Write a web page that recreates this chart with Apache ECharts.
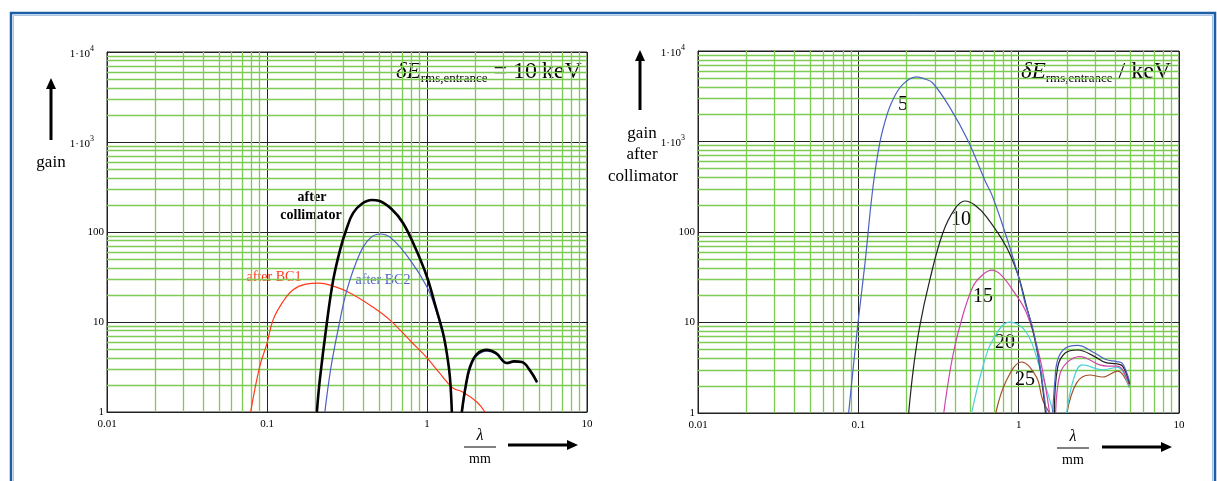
<!DOCTYPE html>
<html>
<head>
<meta charset="utf-8">
<script src="https://cdn.jsdelivr.net/npm/echarts@6/dist/echarts.min.js"></script>
<style>
  html, body { margin: 0; padding: 0; background: #fff; }
  #chart { width: 1217px; height: 481px; }
</style>
</head>
<body>
<div id="chart"></div>
<script>
// wavelength in mm vs gain
const bc1 = [[0.079,1],[0.09,3.2],[0.1,5.8],[0.109,10.5],[0.125,16.5],[0.145,22.7],[0.175,26.3],[0.21,27],[0.26,25],[0.33,21],[0.45,15],[0.587,10.5],[0.8,6],[1,4],[1.2,2.7],[1.45,1.85],[1.67,1.67],[2.05,1.29],[2.3,1]];
const bc2A = [[0.23,1],[0.25,3],[0.278,8.2],[0.316,22.7],[0.381,58],[0.44,85],[0.508,95],[0.6,85],[0.783,49],[1,24.5],[1.13,14],[1.26,7.2],[1.33,4.4],[1.39,2.4],[1.43,1]];
const bc2B = [[1.66,1],[1.76,2],[1.87,3.1],[2.05,4.2],[2.37,4.75],[2.7,4.4],[3.16,3.45],[3.5,3.6],[3.92,3.55],[4.4,2.85],[4.87,2.1]];
const collA = [[0.205,1],[0.214,2.3],[0.237,10],[0.259,29],[0.286,63],[0.315,110],[0.345,162],[0.39,205],[0.453,227],[0.5,222],[0.6,180],[0.708,126],[0.85,65],[1,31.6],[1.13,15],[1.26,7.5],[1.33,4.5],[1.39,2.45],[1.43,1]];
const collB = [[1.65,1],[1.75,2],[1.86,3.2],[2.05,4.4],[2.37,4.9],[2.7,4.5],[3.16,3.5],[3.5,3.65],[3.92,3.6],[4.4,2.9],[4.87,2.15]];

const d5A = [[0.087,1],[0.093,3.2],[0.1,10.7],[0.11,45],[0.123,300],[0.136,960],[0.15,1900],[0.164,2880],[0.19,4300],[0.231,5170],[0.26,4900],[0.291,4430],[0.371,2400],[0.481,1040],[0.614,376],[0.689,244],[0.84,88],[1,31.8],[1.1,16],[1.22,8.9],[1.35,3.5],[1.49,1]];
const d5B = [[1.63,1],[1.68,2.2],[1.75,3.86],[1.95,5.2],[2.33,5.6],[2.98,4.6],[3.5,3.9],[4.08,3.7],[4.45,3.5],[4.92,2.2]];
const d10A = [[0.206,1],[0.22,3],[0.241,8.9],[0.279,29.5],[0.336,97],[0.4,180],[0.462,220],[0.53,200],[0.63,147],[0.84,68],[1,31.8],[1.12,15],[1.22,8.5],[1.35,3.4],[1.47,1]];
const d10B = [[1.67,1],[1.75,3.2],[1.95,4.6],[2.33,4.97],[2.98,4.2],[3.5,3.6],[4.08,3.5],[4.45,3.3],[4.92,2.1]];
const d15A = [[0.341,1],[0.38,3.5],[0.428,8.9],[0.517,24.7],[0.6,34],[0.68,38],[0.77,34],[0.918,22.8],[1.12,12.7],[1.35,4.2],[1.56,1]];
const d15B = [[1.7,1],[1.8,2.6],[2.0,3.6],[2.4,4.2],[3.2,3.4],[3.6,3.3],[4.1,3.3],[4.45,3.0],[4.92,2.0]];
const d20A = [[0.509,1],[0.597,3.2],[0.689,6.4],[0.879,10.1],[1.12,7.7],[1.35,3.2],[1.65,1]];
const d20B = [[1.99,1],[2.22,2.5],[2.5,3.4],[3.35,3.0],[4.15,3.2],[4.45,2.9],[4.92,1.9]];
const d25A = [[0.72,1],[0.84,2.3],[1.045,3.66],[1.29,2.5],[1.41,1.4],[1.56,1]];
const d25B = [[2.0,1],[2.3,2.15],[2.77,2.63],[3.35,2.5],[4.15,2.9],[4.5,2.6],[4.92,1.9]];

const xDecades = [0.01, 0.1, 1];
const yDecades = [1, 10, 100, 1000];

const SERIF = '"Liberation Serif", "DejaVu Serif", serif';
const GREEN = '#7dcb52';

// minor grid lines at 2..9 of every decade
const xMinor = [];
xDecades.forEach(d => { for (let m = 2; m <= 9; m++) xMinor.push(+(m * d).toPrecision(3)); });
const yMinor = [];
yDecades.forEach(d => { for (let m = 2; m <= 9; m++) yMinor.push(m * d); });

function minorGrid(idx) {
  return {
    type: 'line', xAxisIndex: idx, yAxisIndex: idx, data: [], z: 1, silent: true,
    markLine: {
      silent: true, symbol: 'none', animation: false,
      label: { show: false },
      lineStyle: { color: GREEN, type: 'solid', width: 1.3 },
      data: xMinor.map(v => ({ xAxis: v })).concat(yMinor.map(v => ({ yAxis: v })))
    }
  };
}

function curve(idx, data, color, width) {
  return {
    type: 'line', xAxisIndex: idx, yAxisIndex: idx, data: data, smooth: 0.4,
    showSymbol: false, z: 5, silent: true,
    lineStyle: { color: color, width: width || 1.2 }
  };
}

function yLabel(v) {
  if (v >= 1000) return '{a|1\u00b710}{s|' + Math.round(Math.log10(v)) + '}';
  return String(v);
}

function xAxisCfg(idx) {
  return {
    type: 'log', gridIndex: idx, min: 0.01, max: 10, logBase: 10,
    axisLine: { lineStyle: { color: '#222', width: 1 } },
    axisTick: { show: false },
    splitLine: { show: true, lineStyle: { color: '#222', width: 1 } },
    axisLabel: { color: '#000', fontFamily: SERIF, fontSize: 11, margin: 7 }
  };
}

function yAxisCfg(idx) {
  return {
    type: 'log', gridIndex: idx, min: 1, max: 10000, logBase: 10,
    axisLine: { lineStyle: { color: '#222', width: 1 } },
    axisTick: { show: false },
    splitLine: { show: true, lineStyle: { color: '#222', width: 1 } },
    axisLabel: {
      color: '#000', fontFamily: SERIF, fontSize: 11, margin: 3,
      formatter: yLabel,
      rich: {
        a: { fontFamily: SERIF, fontSize: 11, color: '#000', padding: [4, 0, 0, 0] },
        s: { fontFamily: SERIF, fontSize: 8, color: '#000', verticalAlign: 'top', padding: [0, 10, 4, 0] }
      }
    }
  };
}

function txt(x, y, s, size, opts) {
  return {
    type: 'text', x: x, y: y, silent: true,
    style: Object.assign({ text: s, fill: '#000', font: (size || 14) + 'px ' + SERIF, align: 'center', verticalAlign: 'middle' }, opts || {})
  };
}

function richTxt(x, y, s, rich, align) {
  return {
    type: 'text', x: x, y: y, silent: true,
    style: { text: s, rich: rich, align: align || 'left', verticalAlign: 'middle', fill: '#000', font: '14px ' + SERIF }
  };
}

const deRich = {
  d: { font: 'italic 23px ' + SERIF, fill: '#000' },
  sub: { font: '13px ' + SERIF, fill: '#000', padding: [13, 0, 0, 0] },
  big: { font: '24px ' + SERIF, fill: '#000' }
};

function arrow(x1, y1, x2, y2) {
  const horiz = y1 === y2;
  const head = horiz
    ? [[x2, y2], [x2 - 11, y2 - 5], [x2 - 11, y2 + 5]]
    : [[x2, y2], [x2 - 5, y2 + 11], [x2 + 5, y2 + 11]];
  return [
    { type: 'line', silent: true, shape: { x1: x1, y1: y1, x2: horiz ? x2 - 8 : x2, y2: horiz ? y2 : y2 + 8 }, style: { stroke: '#000', lineWidth: 3 } },
    { type: 'polygon', silent: true, shape: { points: head }, style: { fill: '#000' } }
  ];
}

function lambdaLabel(cx, y) {
  return [
    txt(cx, y, '\u03bb', 16, { font: 'italic 16px ' + SERIF }),
    { type: 'line', silent: true, shape: { x1: cx - 16, y1: y + 11, x2: cx + 16, y2: y + 11 }, style: { stroke: '#000', lineWidth: 1 } },
    txt(cx, y + 23, 'mm', 14)
  ];
}

const chart = echarts.init(document.getElementById('chart'));

const graphics = [
  { type: 'rect', silent: true, shape: { x: 11, y: 13, width: 1204, height: 490 }, style: { fill: 'none', stroke: '#1c5ea8', lineWidth: 2.5 } },
  { type: 'rect', silent: true, shape: { x: 13.5, y: 15.5, width: 1199, height: 490 }, style: { fill: 'none', stroke: '#a8c6e6', lineWidth: 1 } },
  // left chart
  ...arrow(51, 140, 51, 78),
  txt(51, 163, 'gain', 17),
  richTxt(396, 72, '{d|\u03b4E}{sub|rms,entrance}{big| = 10\u202fkeV}', deRich),
  txt(312, 197, 'after', 14, { font: 'bold 14px ' + SERIF }),
  txt(311, 215, 'collimator', 14, { font: 'bold 14px ' + SERIF }),
  txt(274, 277, 'after BC1', 14, { fill: '#ff3a1c' }),
  txt(383, 280, 'after BC2', 14, { fill: '#4d5fc2' }),
  ...lambdaLabel(480, 436),
  ...arrow(508, 445, 578, 445),
  // right chart
  ...arrow(640, 110, 640, 50),
  txt(642, 134, 'gain', 17),
  txt(642, 155, 'after', 17),
  txt(643, 177, 'collimator', 17),
  richTxt(1021, 72, '{d|\u03b4E}{sub|rms,entrance}{big| / keV}', deRich),
  txt(903, 105, '5', 20),
  txt(961, 220, '10', 20),
  txt(983, 297, '15', 20),
  txt(1005, 343, '20', 20),
  txt(1025, 380, '25', 20),
  ...lambdaLabel(1073, 437),
  ...arrow(1102, 447, 1172, 447)
];

chart.setOption({
  animation: false,
  backgroundColor: '#fff',
  grid: [
    { left: 107, top: 52, width: 480, height: 360, show: true, borderColor: '#222', borderWidth: 1, backgroundColor: 'transparent' },
    { left: 698, top: 51, width: 481, height: 362, show: true, borderColor: '#222', borderWidth: 1, backgroundColor: 'transparent' }
  ],
  xAxis: [xAxisCfg(0), xAxisCfg(1)],
  yAxis: [yAxisCfg(0), yAxisCfg(1)],
  series: [
    minorGrid(0),
    minorGrid(1),
    curve(0, bc1, '#ff3a1c', 1.2),
    curve(0, bc2A, '#4d5fc2', 1.2),
    curve(0, bc2B, '#4d5fc2', 1.2),
    curve(0, collA, '#000', 2.6),
    curve(0, collB, '#000', 2.6),
    curve(1, d25A, '#a0502a'),
    curve(1, d25B, '#a0502a'),
    curve(1, d20A, '#4fd0d8'),
    curve(1, d20B, '#4fd0d8'),
    curve(1, d15A, '#cc45a8'),
    curve(1, d15B, '#cc45a8'),
    curve(1, d10A, '#222'),
    curve(1, d10B, '#222'),
    curve(1, d5A, '#4d63c4'),
    curve(1, d5B, '#4d63c4')
  ],
  graphic: graphics
});
</script>
</body>
</html>
